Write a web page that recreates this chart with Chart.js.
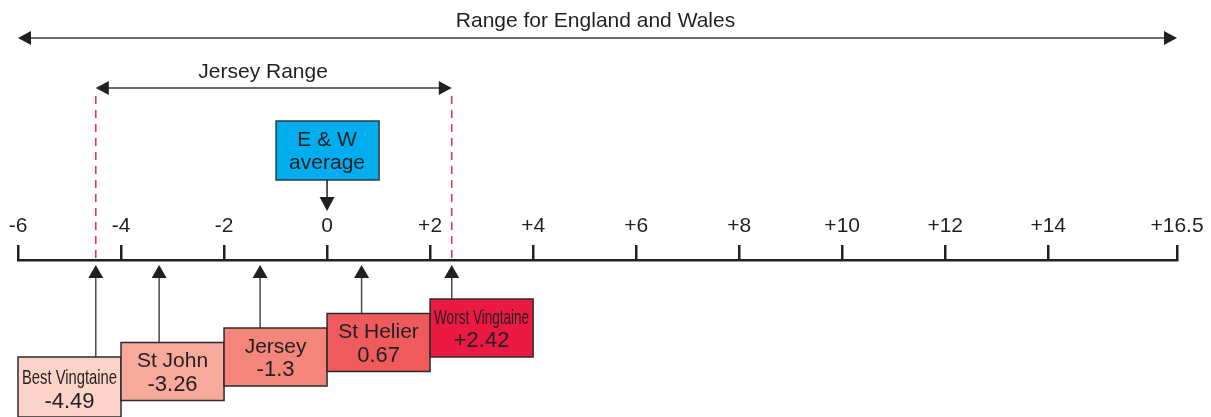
<!DOCTYPE html>
<html>
<head>
<meta charset="utf-8">
<title>Jersey vingtaines against the England and Wales range</title>
<script src="https://cdn.jsdelivr.net/npm/chart.js@4"></script>
<style>
  html, body { margin: 0; background: #fff; }
  #wrap { width: 1211px; height: 417px; }
</style>
</head>
<body>
<div id="wrap"><canvas id="scale"></canvas></div>
<script>
// axis
const tickValues = [-6, -4, -2, 0, 2, 4, 6, 8, 10, 12, 14, 16.5]
const tickLabels = ['-6', '-4', '-2', '0', '+2', '+4', '+6', '+8', '+10', '+12', '+14', '+16.5']

// areas, best to worst
const areaNames = ['Best Vingtaine', 'St John', 'Jersey', 'St Helier', 'Worst Vingtaine']
const areaValues = [-4.49, -3.26, -1.3, 0.67, 2.42]
const areaValueText = ['-4.49', '-3.26', '-1.3', '0.67', '+2.42']

// England and Wales
const ewAverage = 0
const ewRange = [-6, 16.5]

const ink = '#231f20'
const boxFills = ['#fbd3c8', '#f7a99c', '#f3857b', '#ef5a5c', '#ec1a43']
const fontFamily = '"Liberation Sans", Arial, sans-serif'

Chart.defaults.font.family = fontFamily
Chart.defaults.color = ink

// filled arrowhead, tip at (x, y) pointing along (dx, dy)
function head(ctx, x, y, dx, dy, len, half) {
    ctx.beginPath()
    ctx.moveTo(x, y)
    ctx.lineTo(x - dx * len - dy * half, y - dy * len - dx * half)
    ctx.lineTo(x - dx * len + dy * half, y - dy * len + dx * half)
    ctx.closePath()
    ctx.fill()
}

function rangeArrow(ctx, x1, x2, y) {
    ctx.lineWidth = 1.5
    ctx.beginPath()
    ctx.moveTo(x1 + 6, y)
    ctx.lineTo(x2 - 6, y)
    ctx.stroke()
    head(ctx, x1, y, -1, 0, 13, 7)
    head(ctx, x2, y, 1, 0, 13, 7)
}

function label(ctx, text, x, y, size, maxWidth) {
    ctx.font = `${size}px ${fontFamily}`
    ctx.textAlign = 'center'
    ctx.textBaseline = 'middle'
    if (maxWidth) ctx.fillText(text, x, y, maxWidth)
    else ctx.fillText(text, x, y)
}

const annotations = {
    id: 'annotations',
    afterDraw(chart) {
        const ctx = chart.ctx
        const x = chart.scales.x
        const axisY = chart.chartArea.top
        ctx.save()
        ctx.fillStyle = ink
        ctx.strokeStyle = ink

        // England and Wales range
        const ewL = x.getPixelForValue(ewRange[0])
        const ewR = x.getPixelForValue(ewRange[1])
        ctx.strokeStyle = '#3a3a3a'
        rangeArrow(ctx, ewL, ewR, 38)
        label(ctx, 'Range for England and Wales', (ewL + ewR) / 2 - 2, 21, 21)

        // Jersey range, best to worst vingtaine
        const jL = x.getPixelForValue(Math.min(...areaValues))
        const jR = x.getPixelForValue(Math.max(...areaValues))
        ctx.save()
        ctx.strokeStyle = '#e63462'
        ctx.lineWidth = 1.6
        ctx.setLineDash([8, 6])
        ;[jL, jR].forEach(px => {
            ctx.beginPath()
            ctx.moveTo(px, 96)
            ctx.lineTo(px, axisY - 2)
            ctx.stroke()
        })
        ctx.restore()
        rangeArrow(ctx, jL, jR, 88)
        label(ctx, 'Jersey Range', x.getPixelForValue(areaValues[2]) + 3, 72, 21)

        // E & W average box
        const ewX = x.getPixelForValue(ewAverage)
        ctx.fillStyle = '#00aeef'
        ctx.fillRect(ewX - 51, 121, 103, 59)
        ctx.strokeStyle = '#2a3b44'
        ctx.lineWidth = 1.5
        ctx.strokeRect(ewX - 51, 121, 103, 59)
        ctx.fillStyle = ink
        label(ctx, 'E & W', ewX, 140, 21)
        label(ctx, 'average', ewX, 163, 21)
        ctx.strokeStyle = ink
        ctx.beginPath()
        ctx.moveTo(ewX, 180)
        ctx.lineTo(ewX, 199)
        ctx.stroke()
        head(ctx, ewX, 211, 0, 1, 14, 7.5)

        // area boxes, stepping up from left to right
        areaValues.forEach((v, i) => {
            const px = x.getPixelForValue(v)
            const left = x.getPixelForValue(tickValues[i])
            const right = x.getPixelForValue(tickValues[i + 1])
            const top = 357 - i * 14.5
            const h = i === 0 ? 60 : 58

            ctx.strokeStyle = '#4a4a4a'
            ctx.lineWidth = 1.5
            ctx.beginPath()
            ctx.moveTo(px, top)
            ctx.lineTo(px, axisY + 16)
            ctx.stroke()
            ctx.fillStyle = ink
            head(ctx, px, axisY + 5, 0, -1, 13, 7.5)

            ctx.fillStyle = boxFills[i]
            ctx.fillRect(left, top, right - left, h)
            ctx.strokeStyle = '#2b2b2b'
            ctx.strokeRect(left, top, right - left, h)

            ctx.fillStyle = ink
            label(ctx, areaNames[i], (left + right) / 2, top + (i === 0 ? 21 : 19), 21, right - left - 8)
            label(ctx, areaValueText[i], (left + right) / 2, top + (i === 0 ? 45 : 42), 22)
        })
        ctx.restore()
    }
}

new Chart(document.getElementById('scale'), {
    type: 'scatter',
    data: { datasets: [] },
    options: {
        responsive: true,
        maintainAspectRatio: false,
        animation: false,
        events: [],
        layout: {
            padding: { top: 200, left: 18, right: 34, bottom: 0 }
        },
        scales: {
            x: {
                type: 'linear',
                position: 'top',
                min: tickValues[0],
                max: tickValues[tickValues.length - 1],
                afterBuildTicks: scale => {
                    scale.ticks = tickValues.map(v => ({ value: v }))
                },
                afterFit: scale => {
                    scale.height = 60
                },
                grid: {
                    display: true,
                    drawOnChartArea: false,
                    drawTicks: true,
                    tickLength: 15,
                    color: ink,
                    lineWidth: 2.5
                },
                border: { display: true, color: ink, width: 2.5 },
                ticks: {
                    autoSkip: false,
                    maxRotation: 0,
                    padding: 6,
                    color: ink,
                    font: { size: 21 },
                    callback: (value, index) => tickLabels[index]
                }
            },
            y: { display: false, min: 0, max: 1 }
        },
        plugins: {
            legend: { display: false },
            title: { display: false },
            tooltip: { enabled: false }
        }
    },
    plugins: [annotations]
})
</script>
</body>
</html>
